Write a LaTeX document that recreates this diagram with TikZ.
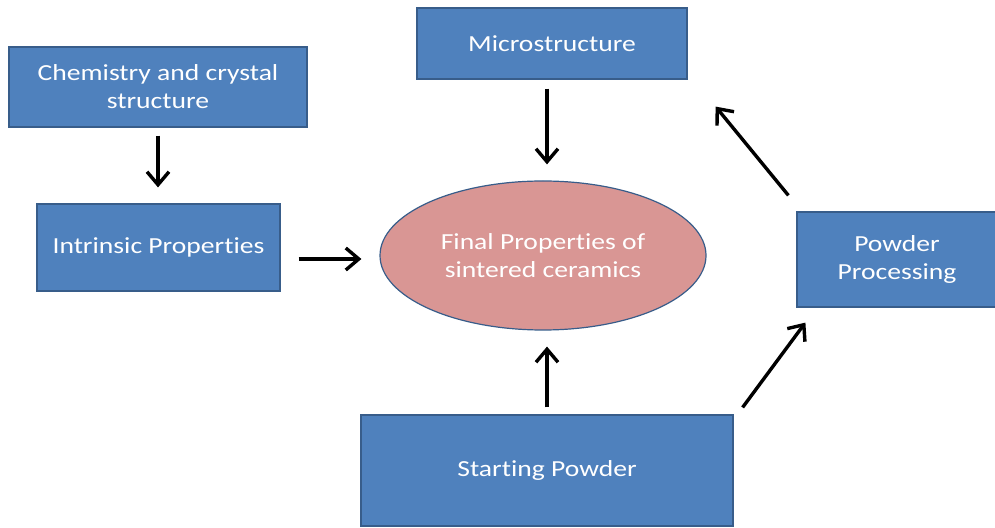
\documentclass[tikz,border=0pt]{standalone}
\usepackage{fontspec}
\setmainfont{Carlito}[FakeStretch=1.2, Ligatures=NoCommon]
\usetikzlibrary{arrows.meta,shapes.geometric}
\definecolor{boxblue}{RGB}{79,129,189}
\definecolor{boxedge}{RGB}{56,93,138}
\definecolor{ellfill}{RGB}{217,150,148}
\tikzset{
  box/.style={draw=boxedge, line width=1.2pt, fill=boxblue, text=white, align=center,
    inner sep=0pt, font=\fontsize{23}{28}\selectfont},
  ell/.style={ellipse, draw=boxedge, line width=1.2pt, fill=ellfill, text=white, align=center,
    inner sep=0pt, font=\fontsize{23}{28}\selectfont},
  arr/.style={line width=3.4pt, -{Straight Barb[length=13pt,width=22pt]}}
}
\begin{document}
\begin{tikzpicture}[x=1pt,y=1pt]
\useasboundingbox (0,0) rectangle (995,527);
\node[box, minimum width=298pt, minimum height=80pt] (chem) at (158,440) {Chemistry and crystal\\structure};
\node[box, minimum width=243pt, minimum height=87pt] (intr) at (158.5,279.5) {Intrinsic Properties};
\node[box, minimum width=270pt, minimum height=71pt] (micro) at (552,483.5) {Microstructure};
\node[ell, minimum width=326pt, minimum height=149pt] (fin) at (543,271.5) {Final Properties of\\sintered ceramics};
\node[box, minimum width=200pt, minimum height=95pt] (pp) at (897,267.5) {Powder\\Processing};
\node[box, minimum width=372pt, minimum height=111pt] (sp) at (547,56.5) {Starting Powder};
\draw[arr] ([yshift=-8pt]chem.south) -- ([yshift=16pt]chem.south |- intr.north);
\draw[arr] ([xshift=18pt,yshift=-11.5pt]intr.east) -- ([xshift=-18pt,yshift=-3.5pt]fin.west);
\draw[arr] ([xshift=-5pt,yshift=-9pt]micro.south) -- ([xshift=4pt,yshift=16pt]fin.north);
\draw[arr] ([yshift=7pt]sp.north) -- ([xshift=4pt,yshift=-16pt]fin.south);
\draw[arr] ([xshift=9pt,yshift=7pt]sp.north east) -- ([xshift=9pt,yshift=-15pt]pp.south west);
\draw[arr] ([xshift=-8pt,yshift=16pt]pp.north west) -- ([xshift=28pt,yshift=-27pt]micro.south east);
\end{tikzpicture}
\end{document}
